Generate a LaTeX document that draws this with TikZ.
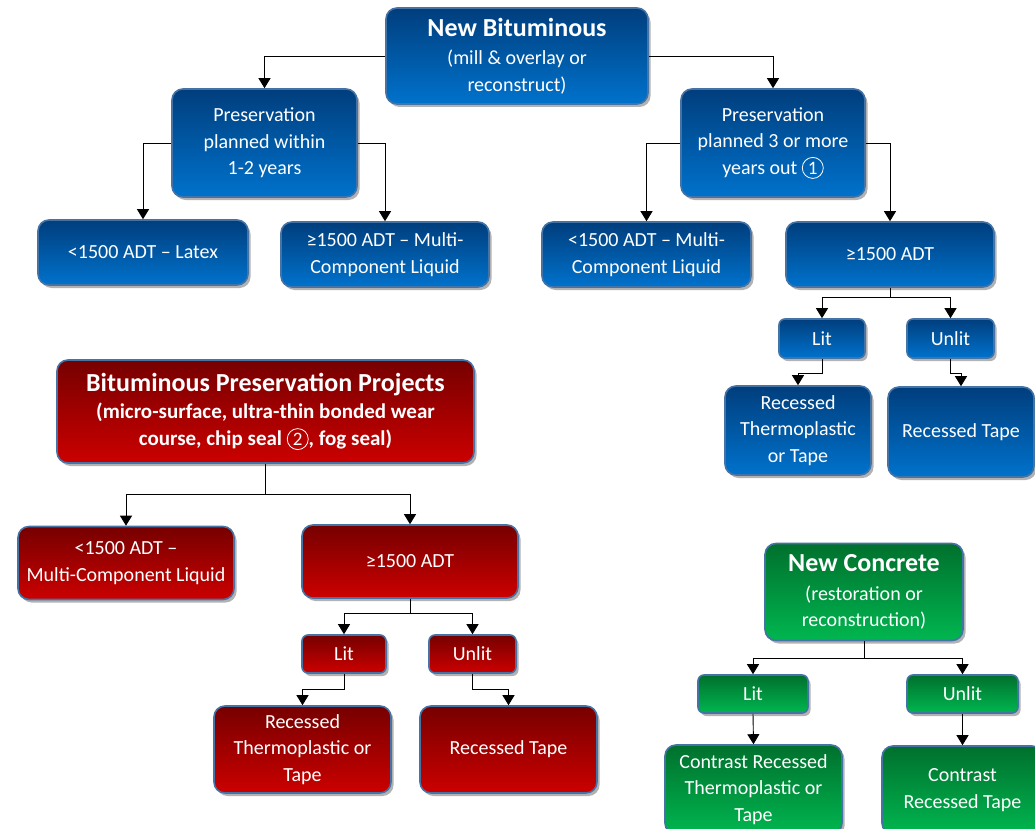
\documentclass[tikz,border=0pt]{standalone}
\usepackage{fontspec}
\setmainfont{Carlito}
\usetikzlibrary{arrows.meta,shadows,calc}
\definecolor{bord}{RGB}{70,115,165}
\definecolor{btop}{RGB}{0,62,125}
\definecolor{bbot}{RGB}{0,114,204}
\definecolor{rtop}{RGB}{118,0,0}
\definecolor{rbot}{RGB}{204,0,0}
\definecolor{gtop}{RGB}{0,112,45}
\definecolor{gbot}{RGB}{0,182,80}
\newcommand{\ttl}{\fontsize{26}{30}\selectfont\bfseries}
\newcommand{\cnum}[1]{\tikz[baseline=(cn.base)]\node[circle,draw=white,line width=0.8pt,inner sep=0.6pt,minimum size=21pt,text=white,font=\fontsize{19}{19}\selectfont\mdseries](cn){#1};}
\tikzset{
  box/.style={rounded corners=11pt, draw=bord, line width=1.6pt, text=white,
    align=center, inner sep=0pt, font=\fontsize{20}{26.5}\selectfont,
    drop shadow={shadow xshift=2.5pt, shadow yshift=-3pt, opacity=0.3, fill=black}},
  smallbox/.style={box, rounded corners=6pt},
  bluebox/.style={top color=btop, bottom color=bbot},
  redbox/.style={top color=rtop, bottom color=rbot},
  greenbox/.style={top color=gtop, bottom color=gbot},
  sz/.style 2 args={minimum width=#1pt, minimum height=#2pt},
  arr/.style={draw=black, line width=0.9pt, -{Triangle[width=12pt,length=10pt]}}
}
\begin{document}
\begin{tikzpicture}[x=1pt,y=-1pt]
\useasboundingbox (0,0) rectangle (1035,829);
\clip (0,0) rectangle (1035,829);
% ---------- blue tree ----------
\node[box,bluebox,sz={262}{96}] (NB) at (517,56) {{\ttl New Bituminous}\\[2pt](mill \& overlay or\\reconstruct)};
\node[box,bluebox,sz={185}{108}] (P12) at (264.5,143) {Preservation\\planned within\\1-2 years};
\node[box,bluebox,sz={184}{108}] (P3) at (773,143) {Preservation\\planned 3 or more\\years out \cnum{1}};
\node[box,bluebox,sz={210}{65}] (L1) at (143,252.5) {<1500 ADT – Latex};
\node[box,bluebox,sz={208}{65}] (M1) at (385,254.5) {≥1500 ADT – Multi-\\Component Liquid};
\node[box,bluebox,sz={209}{65}] (M2) at (646.5,254.5) {<1500 ADT – Multi-\\Component Liquid};
\node[box,bluebox,sz={208}{65}] (G2) at (890,254.5) {≥1500 ADT};
\node[smallbox,bluebox,sz={86}{39}] (LitB) at (822,338.5) {Lit};
\node[smallbox,bluebox,sz={87}{39}] (UnB) at (950.5,338.5) {Unlit};
\node[box,bluebox,sz={146}{89}] (RTB) at (798,430.5) {Recessed\\Thermoplastic\\or Tape};
\node[box,bluebox,sz={146}{90}] (RTapeB) at (961,432) {Recessed Tape};
\draw[arr] (NB.west) -| (P12.north);
\draw[arr] (NB.east) -| (P3.north);
\draw[arr] (P12.west) -| (L1.north);
\draw[arr] (P12.east) -| (M1.north);
\draw[arr] (P3.west) -| (M2.north);
\draw[arr] (P3.east) -| (G2.north);
\draw[arr] (G2.south) -- ++(0,10) -| (LitB.north);
\draw[arr] (G2.south) -- ++(0,10) -| (UnB.north);
\draw[arr] (LitB.south) -- ++(0,15) -| (RTB.north);
\draw[arr] (UnB.south) -- ++(0,15) -| (RTapeB.north);
% ---------- red tree ----------
\node[box,redbox,sz={417}{103}] (BPP) at (265.5,411.5) {{\ttl Bituminous Preservation Projects}\\[1pt]{\bfseries\fontsize{21}{26.5}\selectfont (micro-surface, ultra-thin bonded wear}\\{\bfseries\fontsize{21}{26.5}\selectfont course, chip seal \cnum{2}, fog seal)}};
\node[box,redbox,sz={216}{73}] (R1) at (126,563) {<1500 ADT –\\Multi-Component Liquid};
\node[box,redbox,sz={216}{73}] (R2) at (410,561.5) {≥1500 ADT};
\node[smallbox,redbox,sz={84}{38}] (LitR) at (344,654) {Lit};
\node[smallbox,redbox,sz={87}{38}] (UnR) at (472.5,654) {Unlit};
\node[box,redbox,sz={177}{87}] (RTR) at (302.5,749.5) {Recessed\\Thermoplastic or\\Tape};
\node[box,redbox,sz={177}{87}] (RTapeR) at (508.5,749.5) {Recessed Tape};
\draw[arr] (BPP.south) -- ++(0,31) -| (R1.north);
\draw[arr] (BPP.south) -- ++(0,31) -| (R2.north);
\draw[arr] (R2.south) -- ++(0,15) -| (LitR.north);
\draw[arr] (R2.south) -- ++(0,15) -| (UnR.north);
\draw[arr] (LitR.south) -- ++(0,16) -| (RTR.north);
\draw[arr] (UnR.south) -- ++(0,16) -| (RTapeR.north);
% ---------- green tree ----------
\node[box,greenbox,sz={198}{97}] (NC) at (864,592) {{\ttl New Concrete}\\[2pt](restoration or\\reconstruction)};
\node[smallbox,greenbox,sz={110}{38}] (LitG) at (753,694) {Lit};
\node[smallbox,greenbox,sz={111}{38}] (UnG) at (962.5,694) {Unlit};
\node[box,greenbox,sz={177}{89}] (CRT) at (753.5,789.5) {Contrast Recessed\\Thermoplastic or\\Tape};
\node[box,greenbox,sz={161}{88}] (CRTape) at (962.5,790) {Contrast\\Recessed Tape};
\draw[arr] (NC.south) -- ++(0,17) -| (LitG.north);
\draw[arr] (NC.south) -- ++(0,17) -| (UnG.north);
\draw[arr] (LitG.south) -- (CRT.north);
\draw[arr] (UnG.south) -- (CRTape.north);
\end{tikzpicture}
\end{document}
